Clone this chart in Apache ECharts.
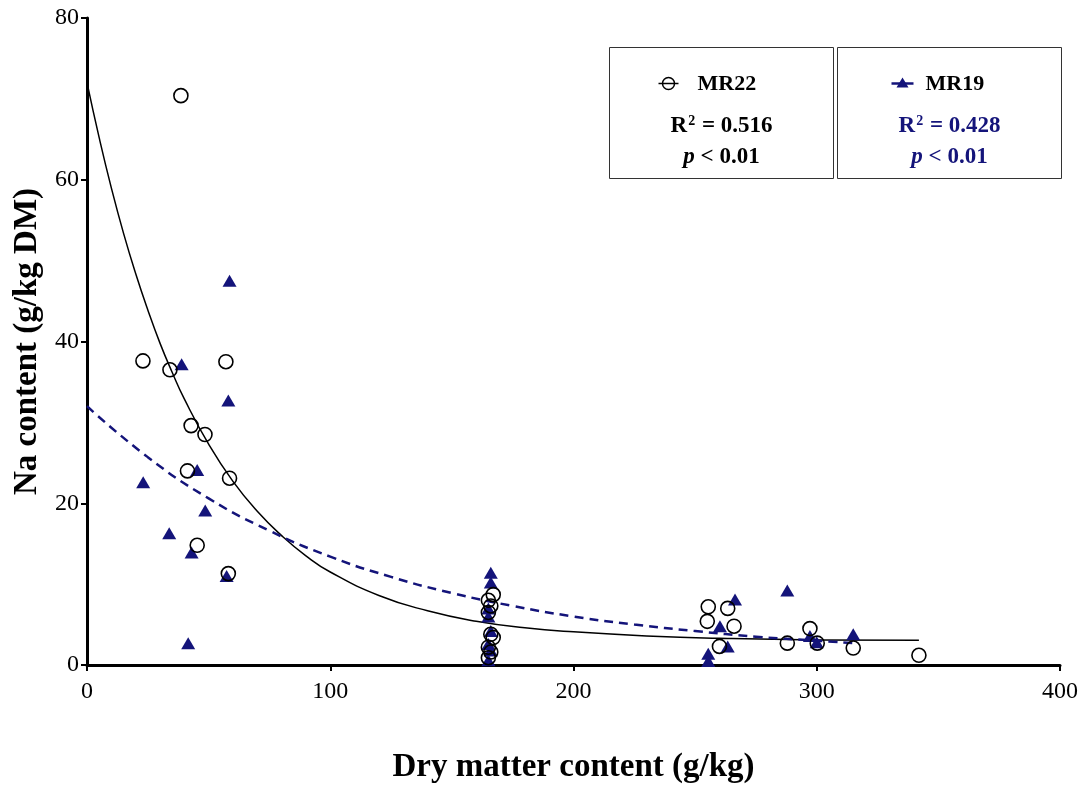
<!DOCTYPE html>
<html>
<head>
<meta charset="utf-8">
<script src="https://cdn.jsdelivr.net/npm/echarts@6/dist/echarts.min.js"></script>
<style>
  html, body { margin: 0; padding: 0; background: #fff; }
  #chart { width: 1085px; height: 789px; }
</style>
</head>
<body>
<div id="chart"></div>
<script>
// observed points, [dry matter g/kg, Na g/kg DM]
const mr22Points = [
  [38.6, 70.4], [23.0, 37.6], [34.1, 36.5], [57.1, 37.5], [42.8, 29.6], [48.5, 28.5],
  [41.3, 24.0], [58.6, 23.1], [45.3, 14.8], [58.1, 11.3],
  [165, 8.0], [166, 7.3], [167, 8.7], [165, 6.5], [166, 3.8], [167, 3.4], [165, 2.2], [166, 1.6], [165, 0.9],
  [255.4, 7.2], [263.4, 7.0], [255.0, 5.4], [266, 4.8], [260, 2.3], [287.9, 2.7],
  [297.2, 4.5], [300.2, 2.7], [315, 2.1], [342, 1.2]
]
const mr19Points = [
  [58.6, 47.5], [38.9, 37.2], [58.1, 32.7], [45.3, 24.1], [23.1, 22.6], [48.6, 19.1],
  [33.8, 16.3], [43.0, 13.9], [57.4, 11.0], [41.6, 2.7],
  [166, 11.4], [166, 10.2], [165, 7.0], [165, 6.0], [166, 4.2], [165, 2.6], [166, 1.8], [165, 0.6],
  [266.4, 8.1], [287.9, 9.2], [260.2, 4.8], [263.4, 2.3], [255.4, 1.4], [255.4, 0.5],
  [297.2, 3.6], [300, 2.8], [315, 3.8]
]
// fitted curves
const mr22Fit = [
  [0, 72.0], [5, 65.2], [10, 59.0], [15, 53.4], [20, 48.4], [25, 43.9], [30, 39.8], [35, 36.2],
  [40, 32.9], [50, 27.3], [60, 22.7], [70, 19.0], [80, 16.0], [90, 13.5], [100, 11.5], [120, 8.6],
  [140, 6.7], [160, 5.4], [180, 4.6], [200, 4.1], [230, 3.6], [260, 3.3], [300, 3.1], [342, 3.05]
]
const mr19Fit = [
  [0, 32.0], [25, 25.7], [50, 20.6], [75, 16.6], [100, 13.4], [125, 10.9], [150, 8.9], [175, 7.3],
  [200, 6.0], [225, 5.0], [250, 4.2], [275, 3.5], [300, 3.0], [315, 2.7]
]
const xTicks = [0, 100, 200, 300, 400]
const yTicks = [0, 20, 40, 60, 80]
const stats = {
  MR22: ['0.516', '0.01'],
  MR19: ['0.428', '0.01']
}

const navy = '#14147a'
const serif = '"Liberation Serif", "DejaVu Serif", serif'

const chart = echarts.init(document.getElementById('chart'))

function statBox(name, left, color, icon) {
  const s = stats[name]
  return {
    type: 'group',
    left: left,
    top: 47,
    children: [
      { type: 'rect', shape: { x: 0, y: 0, width: 224, height: 131 }, style: { fill: '#fff', stroke: '#333', lineWidth: 1 } },
      icon,
      { type: 'text', x: 88, y: 37, style: { text: name, font: 'bold 22px ' + serif, fill: '#000', textVerticalAlign: 'middle' } },
      {
        type: 'text', x: 112, y: 79,
        style: {
          text: '{r|R}{s|2}{r| = ' + s[0] + '}',
          textAlign: 'center', textVerticalAlign: 'middle',
          rich: {
            r: { font: 'bold 23px ' + serif, fill: color },
            s: { font: 'bold 14px ' + serif, fill: color, verticalAlign: 'top', padding: [0, 1, 10, 1] }
          }
        }
      },
      {
        type: 'text', x: 112, y: 110,
        style: {
          text: '{i|p}{r| < ' + s[1] + '}',
          textAlign: 'center', textVerticalAlign: 'middle',
          rich: {
            i: { font: 'italic bold 23px ' + serif, fill: color },
            r: { font: 'bold 23px ' + serif, fill: color }
          }
        }
      }
    ]
  }
}

chart.setOption({
  backgroundColor: '#fff',
  animation: false,
  grid: { left: 87, right: 25, top: 18, bottom: 120 },
  xAxis: {
    type: 'value',
    min: xTicks[0],
    max: xTicks[xTicks.length - 1],
    interval: 100,
    name: 'Dry matter content (g/kg)',
    nameLocation: 'middle',
    nameGap: 86,
    nameTextStyle: { fontFamily: serif, fontWeight: 'bold', fontSize: 33, color: '#000' },
    axisLine: { lineStyle: { color: '#000', width: 3 } },
    axisTick: { length: 6, lineStyle: { width: 2, color: '#000' } },
    axisLabel: { fontFamily: serif, fontSize: 24, color: '#000', margin: 15 },
    splitLine: { show: false }
  },
  yAxis: {
    type: 'value',
    min: yTicks[0],
    max: yTicks[yTicks.length - 1],
    interval: 20,
    name: 'Na content (g/kg DM)',
    nameLocation: 'middle',
    nameGap: 37,
    nameTextStyle: { fontFamily: serif, fontWeight: 'bold', fontSize: 33, color: '#000' },
    axisLine: { lineStyle: { color: '#000', width: 3 } },
    axisTick: { length: 6, lineStyle: { width: 2, color: '#000' } },
    axisLabel: { fontFamily: serif, fontSize: 24, color: '#000', margin: 8 },
    splitLine: { show: false }
  },
  graphic: [
    statBox('MR22', 609, '#000', {
      type: 'group', x: 59, y: 36,
      children: [
        { type: 'line', shape: { x1: -10, y1: 0, x2: 10, y2: 0 }, style: { stroke: '#000', lineWidth: 1.5 } },
        { type: 'circle', shape: { cx: 0, cy: 0, r: 6 }, style: { fill: 'none', stroke: '#000', lineWidth: 1.5 } }
      ]
    }),
    statBox('MR19', 837, navy, {
      type: 'group', x: 65, y: 36,
      children: [
        { type: 'line', shape: { x1: -11, y1: 0, x2: 11, y2: 0 }, style: { stroke: navy, lineWidth: 2.5 } },
        { type: 'polygon', shape: { points: [[0, -6], [6, 4], [-6, 4]] }, style: { fill: navy } }
      ]
    })
  ],
  series: [
    {
      name: 'MR22 fit',
      type: 'line',
      data: mr22Fit,
      showSymbol: false,
      smooth: true,
      lineStyle: { color: '#000', width: 1.5 },
      z: 1
    },
    {
      name: 'MR19 fit',
      type: 'line',
      data: mr19Fit,
      showSymbol: false,
      smooth: true,
      lineStyle: { color: navy, width: 2.5, type: [9, 6] },
      z: 1
    },
    {
      name: 'MR19',
      type: 'scatter',
      data: mr19Points,
      symbol: 'triangle',
      symbolSize: [14, 12],
      itemStyle: { color: navy, opacity: 1 },
      z: 2
    },
    {
      name: 'MR22',
      type: 'scatter',
      data: mr22Points,
      symbol: 'circle',
      symbolSize: 14,
      itemStyle: { color: 'rgba(0,0,0,0)', borderColor: '#000', borderWidth: 1.6, opacity: 1 },
      z: 3
    }
  ]
})
</script>
</body>
</html>
